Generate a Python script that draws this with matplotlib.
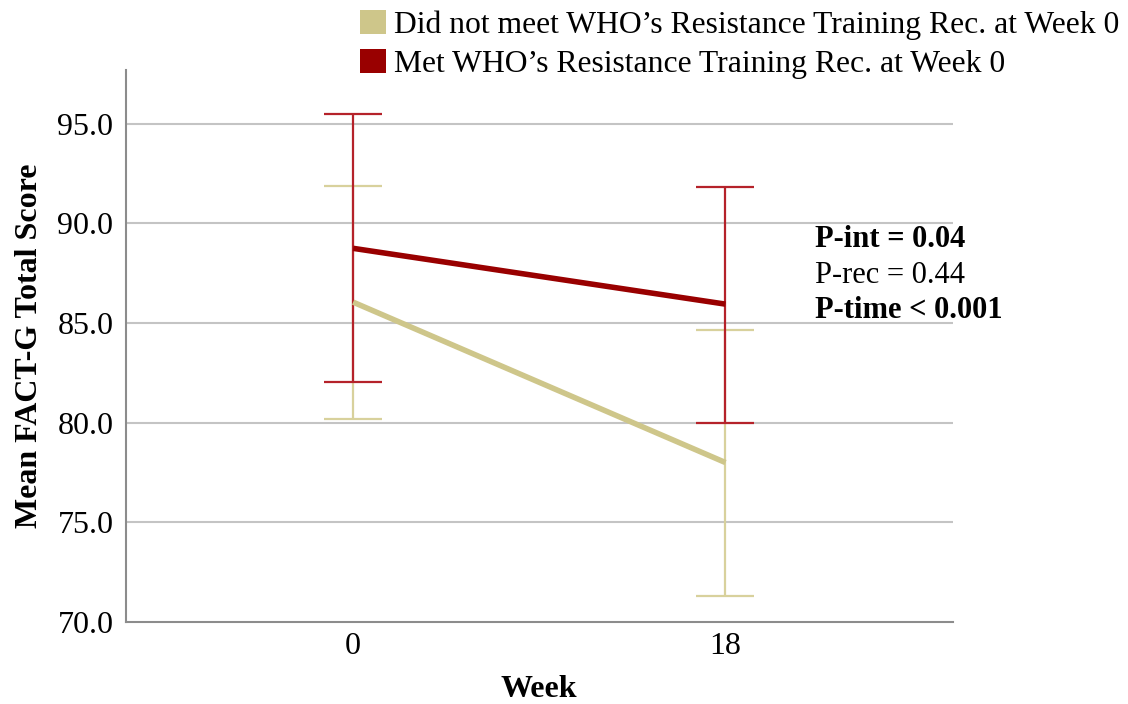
import matplotlib.pyplot as plt
from matplotlib.patches import Patch

# Data
weeks = ["0", "18"]
not_met_mean = [86.05, 78.0]
not_met_low = [80.2, 71.3]
not_met_high = [91.9, 84.65]
met_mean = [88.75, 85.95]
met_low = [82.05, 80.0]
met_high = [95.5, 91.85]
series_labels = [
    "Did not meet WHO\u2019s Resistance Training Rec. at Week 0",
    "Met WHO\u2019s Resistance Training Rec. at Week 0",
]
p_lines = ["P-int = 0.04", "P-rec = 0.44", "P-time < 0.001"]
p_bold = [True, False, True]

plt.rcParams["font.family"] = ["Liberation Serif", "DejaVu Serif"]

TAN = "#CEC68A"
TAN_BAR = "#D8D19C"
RED = "#990000"
RED_BAR = "#B5222A"
FS = 23

fig = plt.figure(figsize=(11.28, 7.04), dpi=100)
ax = fig.add_axes([0.1117, 0.1165, 0.7328, 0.7841])

x = list(range(len(weeks)))
cap = 29 * 72 / 100

for mean, low, high, col, bcol, z in [
    (not_met_mean, not_met_low, not_met_high, TAN, TAN_BAR, 2),
    (met_mean, met_low, met_high, RED, RED_BAR, 3),
]:
    yerr = [[m - l for m, l in zip(mean, low)], [h - m for m, h in zip(mean, high)]]
    ax.errorbar(x, mean, yerr=yerr, fmt="none", ecolor=bcol, elinewidth=1.6,
                capsize=cap, capthick=1.6, zorder=z)

ax.plot(x, not_met_mean, color=TAN, lw=4, zorder=4, solid_capstyle="butt")
ax.plot(x, met_mean, color=RED, lw=4, zorder=5, solid_capstyle="butt")

ax.set_xlim(-0.61, 1.61)
ax.set_ylim(70, 97.7)
ax.set_xticks(x)
ax.set_xticklabels(weeks)
ax.set_yticks([70, 75, 80, 85, 90, 95])
ax.set_yticklabels([f"{v:.1f}" for v in [70, 75, 80, 85, 90, 95]])
ax.tick_params(axis="both", length=0, labelsize=FS, colors="black")
ax.tick_params(axis="y", pad=9)
ax.tick_params(axis="x", pad=7)

for v in [75, 80, 85, 90, 95]:
    ax.axhline(v, color="#C4C4C4", lw=1.5, zorder=1)

ax.spines["top"].set_visible(False)
ax.spines["right"].set_visible(False)
ax.spines["left"].set_color("#8C8C8C")
ax.spines["bottom"].set_color("#8C8C8C")
ax.spines["left"].set_linewidth(1.5)
ax.spines["bottom"].set_linewidth(1.5)

ax.set_ylabel("Mean FACT-G Total Score", fontsize=FS, fontweight="bold", labelpad=10)
ax.set_xlabel("Week", fontsize=FS, fontweight="bold", labelpad=10)

# P-values
for i, (txt, b) in enumerate(zip(p_lines, p_bold)):
    fig.text(815 / 1128, 1 - (240 + i * 35.5) / 704, txt, fontsize=22,
             fontweight="bold" if b else "normal", va="center", ha="left")

handles = [Patch(facecolor=TAN, edgecolor="none"), Patch(facecolor=RED, edgecolor="none")]
fig.legend(handles, series_labels, loc="upper left", bbox_to_anchor=(354 / 1128, 0.995),
           frameon=False, fontsize=22.8, handlelength=0.8, handleheight=0.8,
           handletextpad=0.25, labelspacing=0.27, borderpad=0.1, borderaxespad=0.1)

fig.savefig("out.png", dpi=100, facecolor="white")
